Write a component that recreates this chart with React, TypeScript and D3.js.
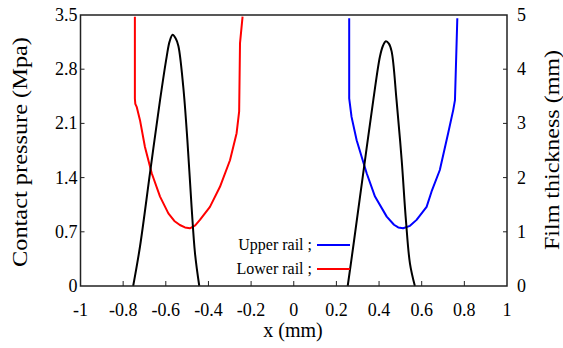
import React, { useEffect, useRef } from 'react';
import * as d3 from 'd3';

// x positions (mm) and contact pressure (MPa), black curves
const lowerPressureX = [-0.753, -0.721, -0.674, -0.627, -0.596, -0.582, -0.568, -0.554, -0.541, -0.518, -0.499, -0.479, -0.463, -0.443];
const lowerPressure = [0, 0.51, 1.46, 2.4, 2.96, 3.16, 3.245, 3.2, 3.1, 2.57, 1.89, 1.02, 0.42, 0];
const upperPressureX = [0.253, 0.279, 0.326, 0.373, 0.404, 0.418, 0.432, 0.446, 0.459, 0.482, 0.506, 0.526, 0.545, 0.568];
const upperPressure = [0, 0.51, 1.46, 2.4, 2.96, 3.1, 3.16, 3.13, 3.03, 2.4, 1.63, 0.85, 0.29, 0];

// film thickness (mm), right axis
const lowerRailX = [-0.745, -0.745, -0.743, -0.736, -0.721, -0.698, -0.666, -0.627, -0.588, -0.56, -0.534, -0.51, -0.487, -0.462, -0.44, -0.393, -0.346, -0.299, -0.268, -0.256, -0.252, -0.24];
const lowerRailFilm = [4.97, 3.46, 3.36, 3.3, 3.06, 2.57, 2.08, 1.65, 1.34, 1.2, 1.125, 1.08, 1.065, 1.12, 1.22, 1.46, 1.83, 2.32, 2.82, 3.22, 4.48, 4.97];
const upperRailX = [0.26, 0.26, 0.271, 0.295, 0.318, 0.342, 0.381, 0.436, 0.47, 0.49, 0.513, 0.545, 0.576, 0.623, 0.646, 0.685, 0.724, 0.748, 0.756, 0.767];
const upperRailFilm = [4.94, 3.46, 3.12, 2.69, 2.39, 2.08, 1.65, 1.28, 1.13, 1.08, 1.065, 1.11, 1.22, 1.46, 1.74, 2.14, 2.82, 3.25, 3.43, 4.94];

const xTicks = [-1, -0.8, -0.6, -0.4, -0.2, 0, 0.2, 0.4, 0.6, 0.8, 1];
const pressureTicks = [0, 0.7, 1.4, 2.1, 2.8, 3.5];
const filmTicks = [0, 1, 2, 3, 4, 5];
const legendLabels = ['Upper rail ;', 'Lower rail ;'];
const legendColors = ['#0000ff', '#ff0000'];

const FONT = 'Liberation Serif, DejaVu Serif, serif';

const App = () => {
  const ref = useRef<SVGSVGElement>(null);

  useEffect(() => {
    const width = 563;
    const height = 348;
    const margin = { top: 15, right: 56, bottom: 62, left: 80.5 };

    const svg = d3.select(ref.current)
      .attr('width', width)
      .attr('height', height)
      .attr('font-family', FONT);
    svg.selectAll('*').remove();

    const x = d3.scaleLinear().domain([-1, 1]).range([margin.left, width - margin.right]);
    const yP = d3.scaleLinear().domain([0, 3.5]).range([height - margin.bottom, margin.top]);
    const yF = d3.scaleLinear().domain([0, 5]).range([height - margin.bottom, margin.top]);

    const x0 = x(-1), x1 = x(1), yb = yP(0), yt = yP(3.5);

    // curves
    const smooth = d3.line<[number, number]>().curve(d3.curveCatmullRom.alpha(0.5));
    const straight = d3.line<[number, number]>();
    const drawCurve = (xs: number[], ys: number[], yScale: d3.ScaleLinear<number, number>, color: string, gen: d3.Line<[number, number]>) => {
      svg.append('path')
        .attr('d', gen(xs.map((v, i) => [x(v), yScale(ys[i])] as [number, number])))
        .attr('fill', 'none')
        .attr('stroke', color)
        .attr('stroke-width', 2)
        .attr('stroke-linejoin', 'round');
    };
    drawCurve(lowerRailX, lowerRailFilm, yF, '#ff0000', straight);
    drawCurve(upperRailX, upperRailFilm, yF, '#0000ff', straight);
    drawCurve(lowerPressureX, lowerPressure, yP, '#000', smooth);
    drawCurve(upperPressureX, upperPressure, yP, '#000', smooth);

    // frame
    svg.append('rect')
      .attr('x', x0).attr('y', yt)
      .attr('width', x1 - x0).attr('height', yb - yt)
      .attr('fill', 'none')
      .attr('stroke', '#222')
      .attr('stroke-width', 1.5);

    // x ticks (inside) and labels
    xTicks.forEach(t => {
      if (t > -1 && t < 1) {
        svg.append('line')
          .attr('x1', x(t)).attr('x2', x(t))
          .attr('y1', yb).attr('y2', yb - 5)
          .attr('stroke', '#222');
      }
      svg.append('text')
        .attr('x', x(t)).attr('y', yb + 30)
        .attr('text-anchor', 'middle')
        .attr('font-size', 18)
        .text(String(t));
    });

    pressureTicks.forEach(t => {
      if (t > 0 && t < 3.5) {
        svg.append('line')
          .attr('x1', x0).attr('x2', x0 + 4)
          .attr('y1', yP(t)).attr('y2', yP(t))
          .attr('stroke', '#222');
      }
      svg.append('text')
        .attr('x', x0 - 3).attr('y', yP(t) + 6)
        .attr('text-anchor', 'end')
        .attr('font-size', 18)
        .text(String(t));
    });

    filmTicks.forEach(t => {
      if (t > 0 && t < 5) {
        svg.append('line')
          .attr('x1', x1).attr('x2', x1 - 4)
          .attr('y1', yF(t)).attr('y2', yF(t))
          .attr('stroke', '#222');
      }
      svg.append('text')
        .attr('x', x1 + 10).attr('y', yF(t) + 6)
        .attr('text-anchor', 'start')
        .attr('font-size', 18)
        .text(String(t));
    });

    // axis titles
    svg.append('text')
      .attr('x', 293).attr('y', 337)
      .attr('text-anchor', 'middle')
      .attr('font-size', 20)
      .text('x (mm)');

    svg.append('text')
      .attr('transform', `translate(27,152) rotate(-90)`)
      .attr('text-anchor', 'middle')
      .attr('textLength', 230)
      .attr('lengthAdjust', 'spacingAndGlyphs')
      .attr('font-size', 21)
      .text('Contact pressure (Mpa)');

    svg.append('text')
      .attr('transform', `translate(559,150) rotate(-90)`)
      .attr('text-anchor', 'middle')
      .attr('textLength', 200)
      .attr('lengthAdjust', 'spacingAndGlyphs')
      .attr('font-size', 20)
      .text('Film thickness (mm)');

    // legend
    legendLabels.forEach((label, i) => {
      const ly = 245 + i * 24;
      svg.append('text')
        .attr('x', 312).attr('y', ly + 5)
        .attr('text-anchor', 'end')
        .attr('font-size', 16)
        .text(label);
      svg.append('line')
        .attr('x1', 317).attr('x2', 350)
        .attr('y1', ly).attr('y2', ly)
        .attr('stroke', legendColors[i])
        .attr('stroke-width', 2);
    });
  }, []);

  return <svg ref={ref} style={{ position: 'absolute', left: 0, top: 0 }}></svg>;
};

export default App;
